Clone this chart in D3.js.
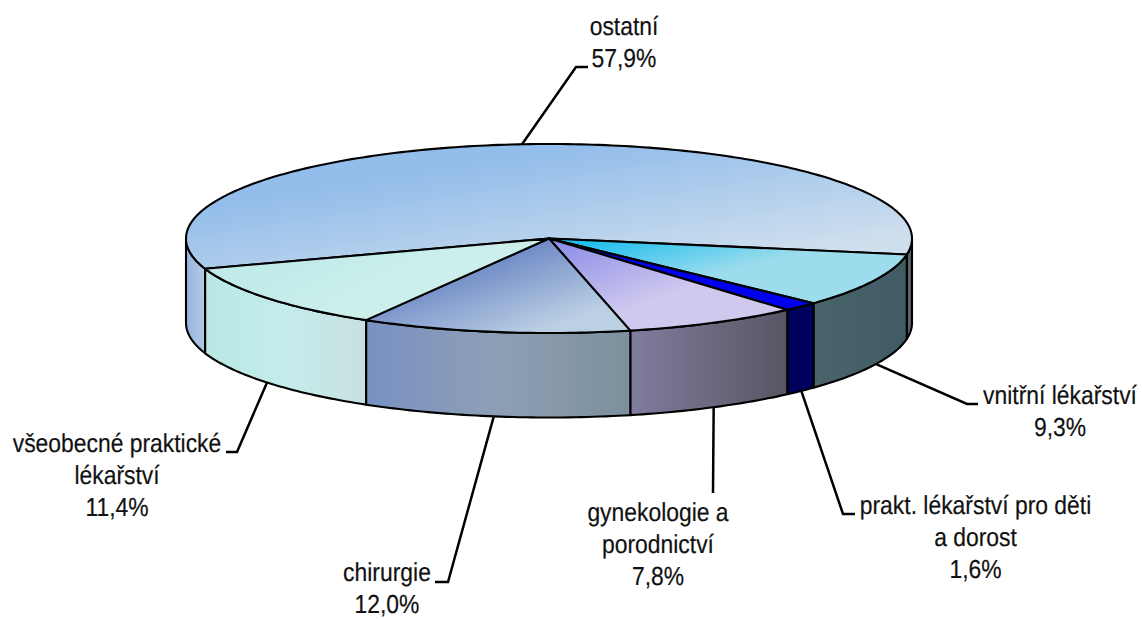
<!DOCTYPE html>
<html>
<head>
<meta charset="utf-8">
<script src="https://cdn.jsdelivr.net/npm/d3@7"></script>
<style>
  html, body { margin: 0; background: #fff; }
  svg { display: block; }
  text { font-family: "Liberation Sans", Arial, sans-serif; font-size: 26px; fill: #111; stroke: #111; stroke-width: 0.2px; text-rendering: geometricPrecision; }
</style>
</head>
<body>
<div id="chart"></div>
<script>
const categories = ["ostatní", "vnitřní lékařství", "prakt. lékařství pro děti a dorost", "gynekologie a porodnictví", "chirurgie", "všeobecné praktické lékařství"];
const values = [57.9, 9.3, 1.6, 7.8, 12.0, 11.4];
const labelLines = [
  ["ostatní"],
  ["vnitřní lékařství"],
  ["prakt. lékařství pro děti", "a dorost"],
  ["gynekologie a", "porodnictví"],
  ["chirurgie"],
  ["všeobecné praktické", "lékařství"]
];

// top face gradients: colours and vector
const topFrom = ["#93bdea", "#22bfee", "#0000ee", "#9090e8", "#6a86c4", "#c0ebe9"];
const topTo = ["#cfdfee", "#9cdcec", "#0000ee", "#cfc9ee", "#bcd0e4", "#ccefec"];
const topVec = [[240, 200, 262, 339], [600, 240, 615, 300], [600, 240, 615, 300], [560, 245, 590, 325], [500, 250, 530, 335], [300, 260, 330, 320]];
// side wall gradients, left to right
const sideFrom = ["#5d6369", "#4b646c", "#00005f", "#807d9e", "#7891c2", "#b9e8e4"];
const sideMid = ["#5c6268", "#455f67", "#00005f", "#6c6a80", "#8e9fb5", "#c4ecea"];
const sideTo = ["#5a6066", "#3f5b63", "#00005f", "#575563", "#7d909c", "#c8e0e2"];
const sideBackFrom = "#98b4dc", sideBackTo = "#b2cae8";

// label centre x, first baseline y and leader elbow
const labelX = [624, 1060, 975.5, 658, 387, 117];
const labelY = [35, 404, 514, 521, 581, 452];
const elbowX = [576, 967, 843, 713, 448, 237];
const elbowY = [67, 404, 514, 493, 582, 452];
const elbowEnd = [588, 978, 855, 713, 435, 226];

const width = 1142, height = 619;
const cx = 549, cy = 238.5, rx = 363, ry = 94.5, depth = 84.5;
const rad = Math.PI / 180;
const start = -108.7 * rad;

const svg = d3.select("#chart").append("svg")
  .attr("width", width)
  .attr("height", height);

const defs = svg.append("defs");

const pie = d3.pie().sort(null).startAngle(start).endAngle(start + 2 * Math.PI);
const arcs = pie(values);

// d3 angle (0 = up, clockwise) to a point on the tilted disc
const px = a => cx + rx * Math.sin(a);
const py = (a, drop = 0) => cy - ry * Math.cos(a) + drop;

const rim = (a0, a1) => {
  const n = Math.max(2, Math.ceil((a1 - a0) / rad));
  return d3.range(n + 1).map(i => a0 + (a1 - a0) * i / n);
};

const line = d3.line();

function gradient(id, colors, vec) {
  const g = defs.append("linearGradient")
    .attr("id", id)
    .attr("gradientUnits", "userSpaceOnUse")
    .attr("x1", vec[0]).attr("y1", vec[1])
    .attr("x2", vec[2]).attr("y2", vec[3]);
  colors.forEach((c, i) => {
    g.append("stop").attr("offset", i / (colors.length - 1)).attr("stop-color", c);
  });
}

// Leaders first, the pie sits on top of their ends
svg.selectAll(".leader")
  .data(arcs)
  .enter().append("path")
    .attr("class", "leader")
    .attr("fill", "none")
    .attr("stroke", "#000")
    .attr("stroke-width", 2.5)
    .attr("d", (d, i) => {
      const mid = (d.startAngle + d.endAngle) / 2;
      const front = Math.cos(mid) < 0;
      const p = [[px(mid), py(mid, front ? depth - 2 : 2)], [elbowX[i], elbowY[i]]];
      if (elbowEnd[i] !== elbowX[i]) p.push([elbowEnd[i], elbowY[i]]);
      return line(p);
    });

// Side wall: only the part of each slice facing the viewer
const sides = [];
arcs.forEach((d, i) => {
  [0, 2 * Math.PI].forEach(shift => {
    const a0 = Math.max(d.startAngle + shift, Math.PI / 2);
    const a1 = Math.min(d.endAngle + shift, 3 * Math.PI / 2);
    if (a1 > a0) sides.push({ i, a0, a1, back: shift > 0 });
  });
});

sides.forEach((s, k) => {
  const x0 = Math.min(px(s.a0), px(s.a1)), x1 = Math.max(px(s.a0), px(s.a1));
  const colors = s.back ? [sideBackFrom, sideBackTo] : [sideFrom[s.i], sideMid[s.i], sideTo[s.i]];
  gradient("side" + k, colors, [x0, 0, x1, 0]);
});

svg.selectAll(".side")
  .data(sides)
  .enter().append("path")
    .attr("class", "side")
    .attr("fill", (s, k) => `url(#side${k})`)
    .attr("stroke", "#000")
    .attr("stroke-width", 2.1)
    .attr("stroke-linejoin", "round")
    .attr("d", s => {
      const as = rim(s.a0, s.a1);
      const upper = as.map(a => [px(a), py(a)]);
      const lower = as.slice().reverse().map(a => [px(a), py(a, depth)]);
      return line(upper.concat(lower)) + "Z";
    });

// Top faces
arcs.forEach((d, i) => gradient("top" + i, [topFrom[i], topTo[i]], topVec[i]));

svg.selectAll(".slice")
  .data(arcs)
  .enter().append("path")
    .attr("class", "slice")
    .attr("fill", (d, i) => `url(#top${i})`)
    .attr("stroke", "#000")
    .attr("stroke-width", 2.1)
    .attr("stroke-linejoin", "round")
    .attr("d", d => {
      const pts = rim(d.startAngle, d.endAngle).map(a => [px(a), py(a)]);
      return line([[cx, cy]].concat(pts)) + "Z";
    });

// Labels, squeezed horizontally like the original
const labels = svg.selectAll(".label")
  .data(categories)
  .enter().append("g")
    .attr("class", "label")
    .attr("transform", (d, i) => `translate(${labelX[i]},${labelY[i]}) scale(0.88,1)`);

labels.each(function(d, i) {
  const lines = labelLines[i].concat([values[i].toFixed(1).replace(".", ",") + "%"]);
  d3.select(this).selectAll("text")
    .data(lines)
    .enter().append("text")
      .attr("text-anchor", "middle")
      .attr("y", (t, j) => j * 32)
      .text(t => t);
});
</script>
</body>
</html>
